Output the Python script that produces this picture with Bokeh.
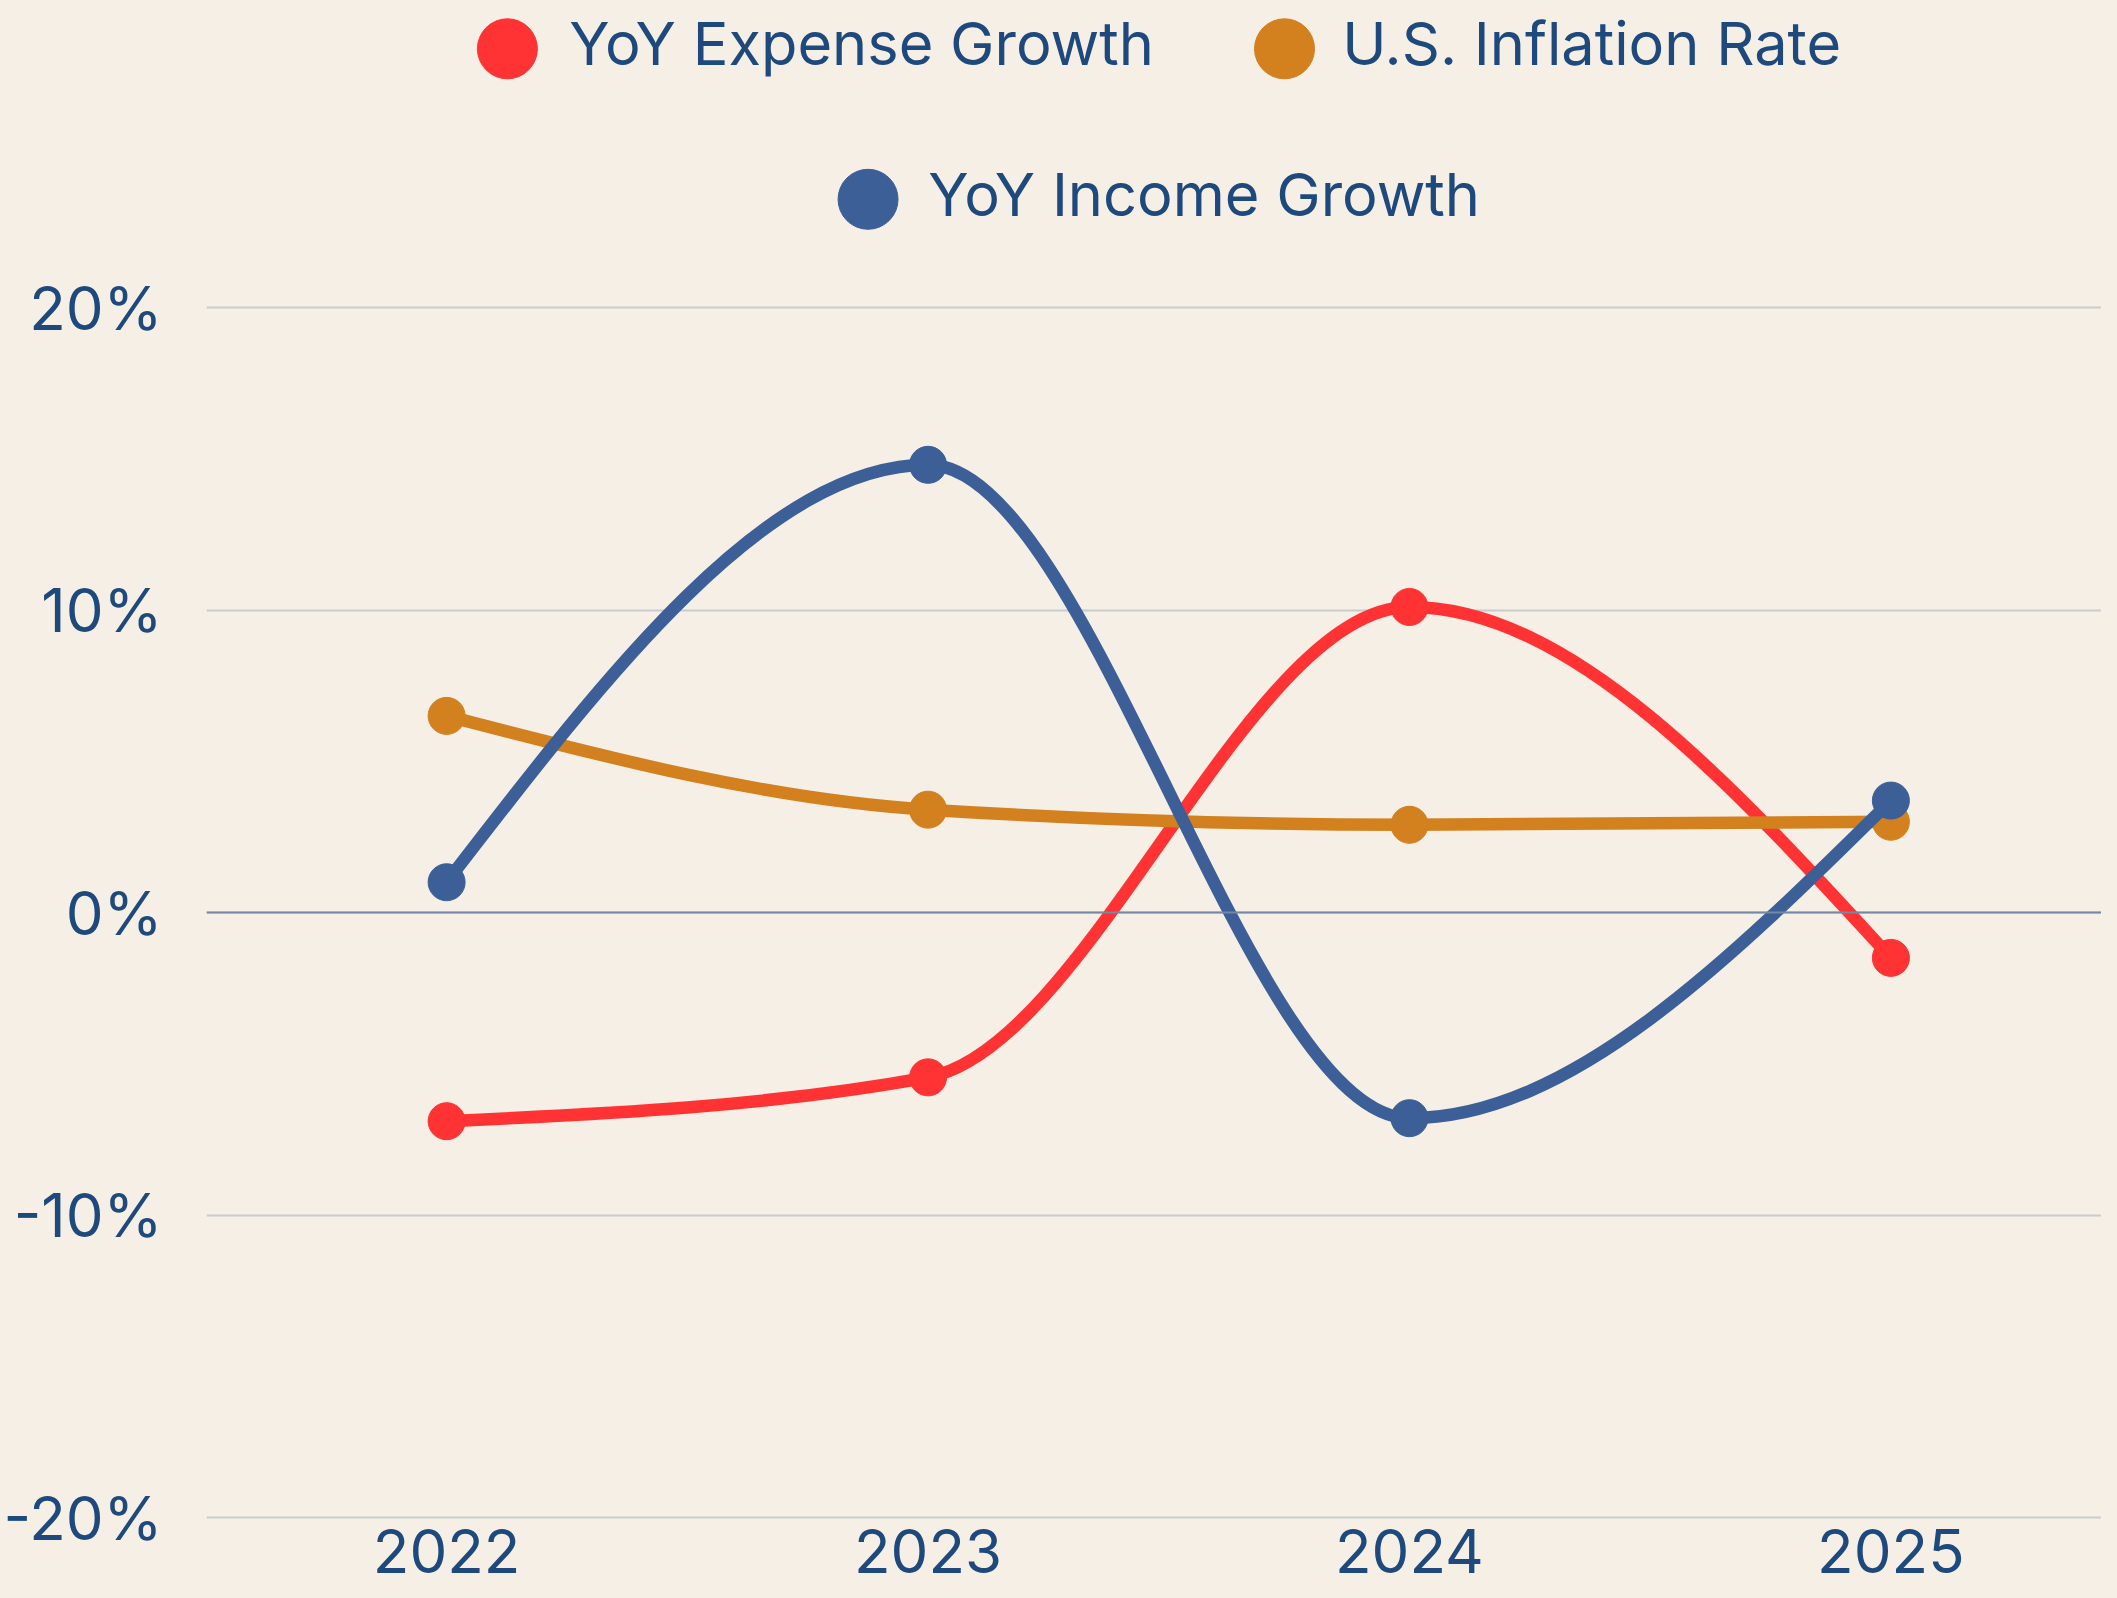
from bokeh.plotting import figure
from bokeh.models import Range1d, FixedTicker, PrintfTickFormatter, Span, ColumnDataSource
from bokeh.core.properties import value
from bokeh.embed import file_html
from bokeh.resources import INLINE

# ---------------- data ----------------
years = [2022, 2023, 2024, 2025]
expense_growth = [-6.9, -5.45, 10.1, -1.5]
inflation_rate = [6.5, 3.4, 2.9, 3.0]
income_growth = [1.0, 14.8, -6.8, 3.7]
series_names = ["YoY Expense Growth", "U.S. Inflation Rate", "YoY Income Growth"]
series_values = [expense_growth, inflation_rate, income_growth]
series_colors = ["#ff3333", "#d3801f", "#3b5f96"]
y_ticks = [-20, -10, 0, 10, 20]

# ---------------- style / layout ----------------
BG = "#f5efe6"
TEXT = "#1e497d"
GRID = "#c9ccce"
ZERO = "#7489a6"
FONT = "Inter"
TICK_FS = "60px"
LEGEND_FS = "59.5px"
LINE_W = 12.5
MARKER = 37

W, H = 2101, 1590
PAGE_X = 8                    # horizontal page margin
FRAME_LEFT_PX = 207           # page px
FRAME_TOP_PX = 0
PLOT_BOTTOM_PX = 1521         # where the x axis sits
FIRST_TICK_PX = 448
PX_PER_UNIT_X = 483.2
ZERO_PX = 912
PX_PER_PCT = 30.25

X0 = years[0] - (FIRST_TICK_PX - FRAME_LEFT_PX) / PX_PER_UNIT_X
X1 = X0 + (PAGE_X + W - FRAME_LEFT_PX) / PX_PER_UNIT_X
Y1 = (ZERO_PX - FRAME_TOP_PX) / PX_PER_PCT
Y0 = (ZERO_PX - H) / PX_PER_PCT            # frame runs to the bottom of the canvas
Y_AXIS_AT = (ZERO_PX - PLOT_BOTTOM_PX) / PX_PER_PCT


def monotone_x_segments(xs, ys):
    """d3.curveMonotoneX cubic segments as bezier control points."""
    n = len(xs)
    sgn = lambda v: -1.0 if v < 0 else 1.0
    s = [(ys[i + 1] - ys[i]) / (xs[i + 1] - xs[i]) for i in range(n - 1)]
    t = [0.0] * n
    for i in range(1, n - 1):
        h0 = xs[i] - xs[i - 1]
        h1 = xs[i + 1] - xs[i]
        pp = (s[i - 1] * h1 + s[i] * h0) / (h0 + h1)
        t[i] = (sgn(s[i - 1]) + sgn(s[i])) * min(abs(s[i - 1]), abs(s[i]), 0.5 * abs(pp))
    t[0] = (3 * s[0] - t[1]) / 2
    t[n - 1] = (3 * s[n - 2] - t[n - 2]) / 2
    seg = dict(x0=[], y0=[], x1=[], y1=[], cx0=[], cy0=[], cx1=[], cy1=[])
    for i in range(n - 1):
        dx = (xs[i + 1] - xs[i]) / 3
        seg["x0"].append(xs[i]); seg["y0"].append(ys[i])
        seg["x1"].append(xs[i + 1]); seg["y1"].append(ys[i + 1])
        seg["cx0"].append(xs[i] + dx); seg["cy0"].append(ys[i] + dx * t[i])
        seg["cx1"].append(xs[i + 1] - dx); seg["cy1"].append(ys[i + 1] - dx * t[i + 1])
    return seg


p = figure(width=W, height=H, x_range=Range1d(X0, X1), y_range=Range1d(Y0, Y1),
           output_backend="svg", toolbar_location=None,
           min_border_left=FRAME_LEFT_PX - PAGE_X, min_border_right=0, min_border_top=0,
           min_border_bottom=0)
p.background_fill_color = BG
p.border_fill_color = BG
p.outline_line_color = None

p.xgrid.visible = False
p.ygrid.ticker = FixedTicker(ticks=y_ticks)
p.ygrid.grid_line_color = GRID
p.ygrid.grid_line_width = 2

p.yaxis.ticker = FixedTicker(ticks=y_ticks)
p.yaxis.formatter = PrintfTickFormatter(format="%d%%")
p.xaxis.ticker = FixedTicker(ticks=years)
for ax in (p.xaxis, p.yaxis):
    ax.axis_line_color = None
    ax.major_tick_line_color = None
    ax.minor_tick_line_color = None
    ax.major_tick_out = 0
    ax.major_tick_in = 0
    ax.minor_tick_out = 0
    ax.minor_tick_in = 0
    ax.major_label_text_font = FONT
    ax.major_label_text_font_size = TICK_FS
    ax.major_label_text_color = TEXT
p.yaxis.major_label_standoff = 44
# x axis pinned just below the -20% line; its labels fall inside the frame
p.xaxis.fixed_location = Y_AXIS_AT
p.xaxis.major_label_standoff = 7

p.add_layout(Span(location=0, dimension="width", line_color=ZERO, line_width=2))

for vals, color in zip(series_values, series_colors):
    src = ColumnDataSource(monotone_x_segments(years, vals))
    p.bezier(x0="x0", y0="y0", x1="x1", y1="y1", cx0="cx0", cy0="cy0", cx1="cx1", cy1="cy1",
             source=src, line_color=color, line_width=LINE_W)
    p.scatter(x=years, y=vals, size=MARKER, fill_color=color, line_color=color, line_width=1)

# ---------------- legend (layout given in page pixels, mapped into the frame) ----------------
leg_circle_px = [509, 1289, 871]
leg_circle_py = [48.3, 48.3, 198.8]
leg_text_px = [571, 1347, 931.5]
leg_text_py = [42.8, 42.8, 193.8]


def to_x(px):
    return X0 + (px - FRAME_LEFT_PX) / PX_PER_UNIT_X


def to_y(py):
    return (ZERO_PX - py) / PX_PER_PCT


p.scatter(x=[to_x(v) for v in leg_circle_px], y=[to_y(v) for v in leg_circle_py], size=60,
          fill_color=series_colors, line_color=series_colors)
p.text(x=[to_x(v) for v in leg_text_px], y=[to_y(v) for v in leg_text_py], text=series_names,
       text_font=value(FONT), text_font_size=LEGEND_FS, text_color=TEXT,
       text_baseline="middle", text_align="left")

html = file_html(p, INLINE, title="Growth vs Inflation")
html = html.replace("<head>", "<head><style>html,body{background:%s;}</style>" % BG, 1)
open("out.html", "w").write(html)
